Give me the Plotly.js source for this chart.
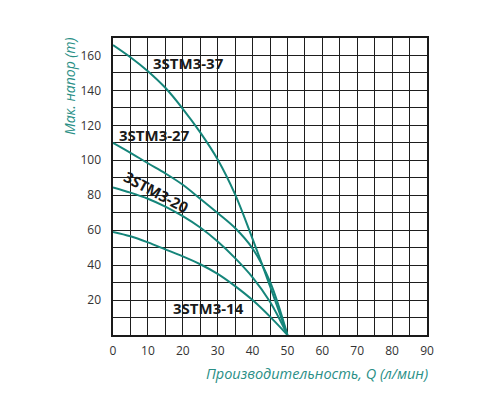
<!DOCTYPE html>
<html>
<head>
<meta charset="utf-8">
<script src="https://cdn.plot.ly/plotly-3.0.1.min.js"></script>
<style>html,body{margin:0;padding:0;background:#fff;}#chart{width:500px;height:400px;}</style>
</head>
<body>
<div id="chart"></div>
<script>
// Flow Q (l/min)
const flow = [0, 5, 10, 15, 20, 25, 30, 35, 40, 45, 50];
// Head (m) per pump model
const head37 = [166, 159, 151, 141.5, 129.5, 116, 100.5, 80.5, 55, 28, 0];
const head27 = [110, 104.3, 98.3, 92.5, 86, 78, 69.8, 61.2, 49.5, 30.5, 0];
const head20 = [84.5, 81.5, 78, 73.5, 68, 61.5, 53.5, 44, 33, 19, 0];
const head14 = [59, 56.5, 53, 49, 45, 40.5, 35, 28, 20, 10.5, 0];
const seriesNames = ['3STM3-37', '3STM3-27', '3STM3-20', '3STM3-14'];
const xTicks = [0, 10, 20, 30, 40, 50, 60, 70, 80, 90];
const yTicks = [20, 40, 60, 80, 100, 120, 140, 160];
// label anchor positions (data units)
const labelX = [21.5, 11.8, 12.5, 27.3];
const labelY = [155.7, 114.6, 81.7, 15.3];
const labelAngle = [0, 0, 28, 0];

const lineColor = '#15857a';
const teal = '#2a8f86';
const gridColor = '#1e1e1e';

const heads = [head37, head27, head20, head14];
const traces = heads.map((h, i) => ({
  x: flow, y: h, name: seriesNames[i], type: 'scatter', mode: 'lines',
  line: {color: lineColor, width: 2, shape: 'spline', smoothing: 1},
  hoverinfo: 'x+y+name'
}));

const annotations = seriesNames.map((n, i) => ({
  x: labelX[i], y: labelY[i], xref: 'x', yref: 'y', text: n, showarrow: false,
  textangle: labelAngle[i],
  font: {family: 'Open Sans, sans-serif', size: 15, color: '#1a1a1a', weight: 'bold'}
}));
annotations.push({
  xref: 'paper', yref: 'paper', x: 1.01, y: -0.09, xanchor: 'right', yanchor: 'top',
  text: 'Производительность, Q (л/мин)', showarrow: false,
  font: {family: 'Open Sans, sans-serif', size: 14.5, color: teal, style: 'italic'}
});
annotations.push({
  xref: 'paper', yref: 'paper', x: -0.14, y: 1.01, xanchor: 'center', yanchor: 'top',
  text: 'Мак. напор (m)', showarrow: false, textangle: -90,
  font: {family: 'Open Sans, sans-serif', size: 14, color: teal, style: 'italic'}
});

const layout = {
  width: 500, height: 400,
  margin: {l: 113, r: 73, t: 38, b: 65},
  paper_bgcolor: '#fff', plot_bgcolor: '#fff',
  showlegend: false,
  xaxis: {
    range: [0, 90], tickvals: xTicks, showgrid: true, gridcolor: gridColor, gridwidth: 1,
    minor: {dtick: 5, tick0: 0, showgrid: true, gridcolor: gridColor, gridwidth: 1},
    showline: true, mirror: true, linecolor: '#1a1a1a', linewidth: 1.6,
    zeroline: false, ticks: '', ticklabelstandoff: 4,
    tickfont: {family: 'Open Sans, sans-serif', size: 12, color: '#333'}
  },
  yaxis: {
    range: [0, 170], tickvals: yTicks, showgrid: true, gridcolor: gridColor, gridwidth: 1,
    minor: {dtick: 10, tick0: 0, showgrid: true, gridcolor: gridColor, gridwidth: 1},
    showline: true, mirror: true, linecolor: '#1a1a1a', linewidth: 1.6,
    zeroline: false, ticks: '', ticklabelstandoff: 8,
    tickfont: {family: 'Open Sans, sans-serif', size: 12, color: '#333'}
  },
  annotations: annotations
};

Plotly.newPlot('chart', traces, layout, {displayModeBar: false, staticPlot: true});
</script>
</body>
</html>
